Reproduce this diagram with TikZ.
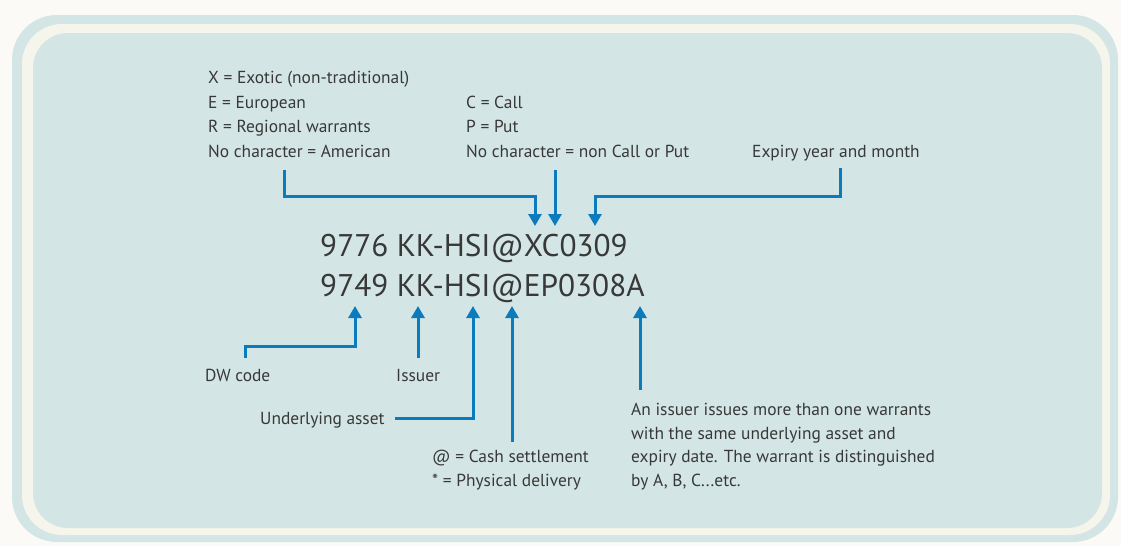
\documentclass[tikz,border=0pt]{standalone}
\usepackage{fontspec}
\setmainfont{PT Sans}
\usetikzlibrary{arrows.meta}
\definecolor{pagebg}{HTML}{FBFAF6}
\definecolor{tealfill}{HTML}{D3E6E5}
\definecolor{creamband}{HTML}{F6F5EC}
\definecolor{arrowblue}{HTML}{0B7BBD}
\definecolor{txt}{HTML}{383838}
\tikzset{
  lbl/.style={anchor=base west, inner sep=0pt, text=txt, font=\fontsize{17.4}{24.5}\selectfont},
  code/.style={anchor=base west, inner sep=0pt, text=txt, font=\fontsize{31.3}{40}\selectfont},
  pointer/.style={draw=arrowblue, line width=3pt, -{Triangle[width=13pt,length=12pt]}},
}
\begin{document}
\begin{tikzpicture}[x=1pt,y=-1pt]
\useasboundingbox (0,0) rectangle (1121,546);
\fill[pagebg] (0,0) rectangle (1121,546);
\fill[tealfill, rounded corners=45pt] (12,15) rectangle (1118,542);
\fill[creamband, rounded corners=40pt] (22,24) rectangle (1110,535);
\fill[tealfill, rounded corners=35pt] (33,33) rectangle (1102,528);

% top labels
\node[lbl] (x1) at (208,83) {X = Exotic (non-traditional)};
\node[lbl] (x2) at (208,108) {E = European};
\node[lbl] (x3) at (208,132) {R = Regional warrants};
\node[lbl] (x4) at (208,157) {No character = American};
\node[lbl] (c1) at (466,108) {C = Call};
\node[lbl] (c2) at (466,132) {P = Put};
\node[lbl] (c3) at (466,157) {No character = non Call or Put};
\node[lbl] (ex) at (752,157) {Expiry year and month};

% codes
\node[code] (l1) at (320,256) {9776 KK-HSI@XC0309};
\node[code] (l2) at (320,296) {9749 KK-HSI@EP0308A};

% bottom labels
\node[lbl] (dw) at (205,381) {DW code};
\node[lbl] (is) at (396,381) {Issuer};
\node[lbl] (ua) at (260,424) {Underlying asset};
\node[lbl] (cs1) at (432,462) {@ = Cash settlement};
\node[lbl] (cs2) at (432,486) {* = Physical delivery};
\node[lbl] (p1) at (631,415) {An issuer issues more than one warrants};
\node[lbl] (p2) at (631,439) {with the same underlying asset and};
\node[lbl] (p3) at (631,462) {expiry date. The warrant is distinguished};
\node[lbl] (p4) at (631,486) {by A, B, C...etc.};

% coordinates
\coordinate (sA) at (284,170);
\coordinate (tA) at (535,226);
\coordinate (sB) at (555,170);
\coordinate (tB) at (555,226);
\coordinate (sC) at (840,168);
\coordinate (tC) at (595,226);
\coordinate (sD) at (245,358);
\coordinate (tD) at (355,306);
\coordinate (sE) at (418,358);
\coordinate (tE) at (418,306);
\coordinate (sF) at (395,418);
\coordinate (tF) at (473,306);
\coordinate (sG) at (512,442);
\coordinate (tG) at (512,306);
\coordinate (sH) at (640,390);
\coordinate (tH) at (640,306);

\draw[pointer] (sA) |- (535,196) -- (tA);
\draw[pointer] (sB) -- (tB);
\draw[pointer] (sC) |- (595,196) -- (tC);
\draw[pointer] (sD) |- (355,346) -- (tD);
\draw[pointer] (sE) -- (tE);
\draw[pointer] (sF) -| (tF);
\draw[pointer] (sG) -- (tG);
\draw[pointer] (sH) -- (tH);
\end{tikzpicture}
\end{document}
